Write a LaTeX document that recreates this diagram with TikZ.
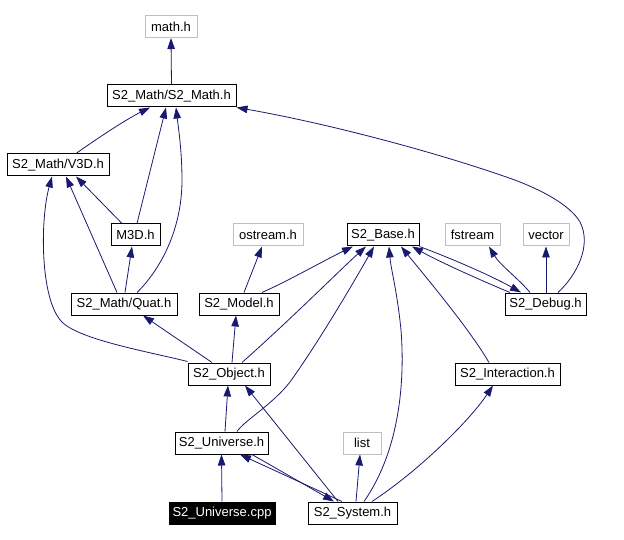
\documentclass[tikz,border=0pt]{standalone}
\usepackage{fontspec}
\setmainfont{Liberation Sans}
\usetikzlibrary{arrows.meta}
\definecolor{edgeblue}{HTML}{191970}
\definecolor{extgrey}{HTML}{BFBFBF}
\begin{document}
\begin{tikzpicture}[x=1pt,y=-1pt,
  file/.style={draw=black, line width=1pt, fill=white, minimum height=22pt, inner sep=1pt, font=\fontsize{13}{15}\selectfont},
  ext/.style={file, draw=extgrey},
  mainfile/.style={file, fill=black, text=white},
  dep/.style={draw=edgeblue, line width=0.8pt, -{Triangle[length=11pt,width=7.5pt]}}]
\useasboundingbox[fill=white] (0,0) rectangle (624,540);

\node[ext, minimum width=52pt] (math) at (171,26.5) {math.h};
\node[file, minimum width=129pt] (s2math) at (171.5,96) {S2\_Math/S2\_Math.h};
\node[file, minimum width=102pt] (v3d) at (58,165) {S2\_Math/V3D.h};
\node[file, minimum width=49pt] (m3d) at (135.5,235) {M3D.h};
\node[file, minimum width=106pt] (quat) at (124,304) {S2\_Math/Quat.h};
\node[ext, minimum width=70pt] (ostream) at (268,235) {ostream.h};
\node[file, minimum width=72pt] (base) at (383,235) {S2\_Base.h};
\node[ext, minimum width=55pt] (fstream) at (472.5,235) {fstream};
\node[ext, minimum width=46pt] (vector) at (546,235) {vector};
\node[file, minimum width=81pt] (debug) at (545.5,304) {S2\_Debug.h};
\node[file, minimum width=80pt] (model) at (239,304) {S2\_Model.h};
\node[file, minimum width=82pt] (object) at (229,374) {S2\_Object.h};
\node[file, minimum width=105pt] (inter) at (507.5,374) {S2\_Interaction.h};
\node[file, minimum width=93pt] (univ) at (221.5,443) {S2\_Universe.h};
\node[ext, minimum width=38pt] (list) at (362,443) {list};
\node[mainfile, minimum width=106pt] (cpp) at (222,513) {S2\_Universe.cpp};
\node[file, minimum width=89pt] (sys) at (352.5,513) {S2\_System.h};

% S2_Math.h
\draw[dep] (s2math.north) -- (math.south);
% V3D.h
\draw[dep] ([xshift=18]v3d.north) .. controls (95,140) and (125,120) .. ([xshift=-21.5]s2math.south);
% M3D.h
\draw[dep] ([xshift=1.5]m3d.north) -- ([xshift=-5.5]s2math.south);
\draw[dep] ([xshift=-13.5]m3d.north) -- ([xshift=18]v3d.south);
% Quat.h
\draw[dep] ([xshift=13]quat.north) .. controls (160,270) and (182,230) .. (182,180) .. controls (182,150) and (178,125) .. ([xshift=4.5]s2math.south);
\draw[dep] ([xshift=-7]quat.north) -- ([xshift=8]v3d.south);
\draw[dep] ([xshift=1]quat.north) -- ([xshift=-3.5]m3d.south);
% S2_Object.h
\draw[dep] ([yshift=1]object.north west) .. controls (150,352) and (80,340) .. (62,322) .. controls (40,300) and (40,220) .. ([xshift=-6]v3d.south);
\draw[dep] ([xshift=-17]object.north) -- ([xshift=19]quat.south);
\draw[dep] ([xshift=3]object.north) -- ([xshift=-3]model.south);
\draw[dep] ([xshift=13]object.north) .. controls (290,320) and (340,270) .. ([xshift=-17]base.south);
% S2_Model.h
\draw[dep] ([xshift=5]model.north) -- ([xshift=-6]ostream.south);
\draw[dep] ([xshift=23]model.north) .. controls (290,280) and (325,260) .. ([xshift=-30]base.south);
% S2_Debug.h
\draw[dep] ([xshift=-35.5]debug.north) .. controls (480,280) and (440,262) .. ([xshift=29]base.south);
\draw[dep] (base.south east) .. controls (450,258) and (490,275) .. ([xshift=-24.5]debug.north);
\draw[dep] ([xshift=-15.5]debug.north) .. controls (520,280) and (500,265) .. ([xshift=16.5]fstream.south);
\draw[dep] ([xshift=0.5]debug.north) -- (vector.south);
\draw[dep] ([xshift=12.5]debug.north) .. controls (577,275) and (592,245) .. (580,222) .. controls (570,205) and (542,190) .. (512,179) .. controls (430,150) and (320,122) .. (s2math.south east);
% S2_Interaction.h
\draw[dep] ([xshift=-18.5]inter.north) .. controls (470,330) and (430,282) .. ([xshift=18]base.south);
% S2_Universe.h
\draw[dep] ([xshift=15.5]univ.north) .. controls (245,420) and (272,405) .. (290,382) .. controls (320,340) and (355,280) .. ([xshift=-9]base.south);
\draw[dep] ([xshift=3.5]univ.north) -- ([xshift=-1]object.south);
\draw[dep] ([xshift=30.5]univ.south) -- ([xshift=-18.5]sys.north);
% S2_Universe.cpp
\draw[dep] (cpp.north) -- (univ.south);
% S2_System.h
\draw[dep] ([xshift=-10.5]sys.north) -- ([xshift=18.5]univ.south);
\draw[dep] ([xshift=-14.5]sys.north) -- ([xshift=16]object.south);
\draw[dep] ([xshift=3.5]sys.north) -- ([xshift=-2]list.south);
\draw[dep] ([xshift=11.5]sys.north) .. controls (400,450) and (405,380) .. (401,330) .. controls (397,290) and (391,270) .. ([xshift=6]base.south);
\draw[dep] ([xshift=19.5]sys.north) .. controls (420,470) and (470,420) .. ([xshift=-14.5]inter.south);
\end{tikzpicture}
\end{document}
